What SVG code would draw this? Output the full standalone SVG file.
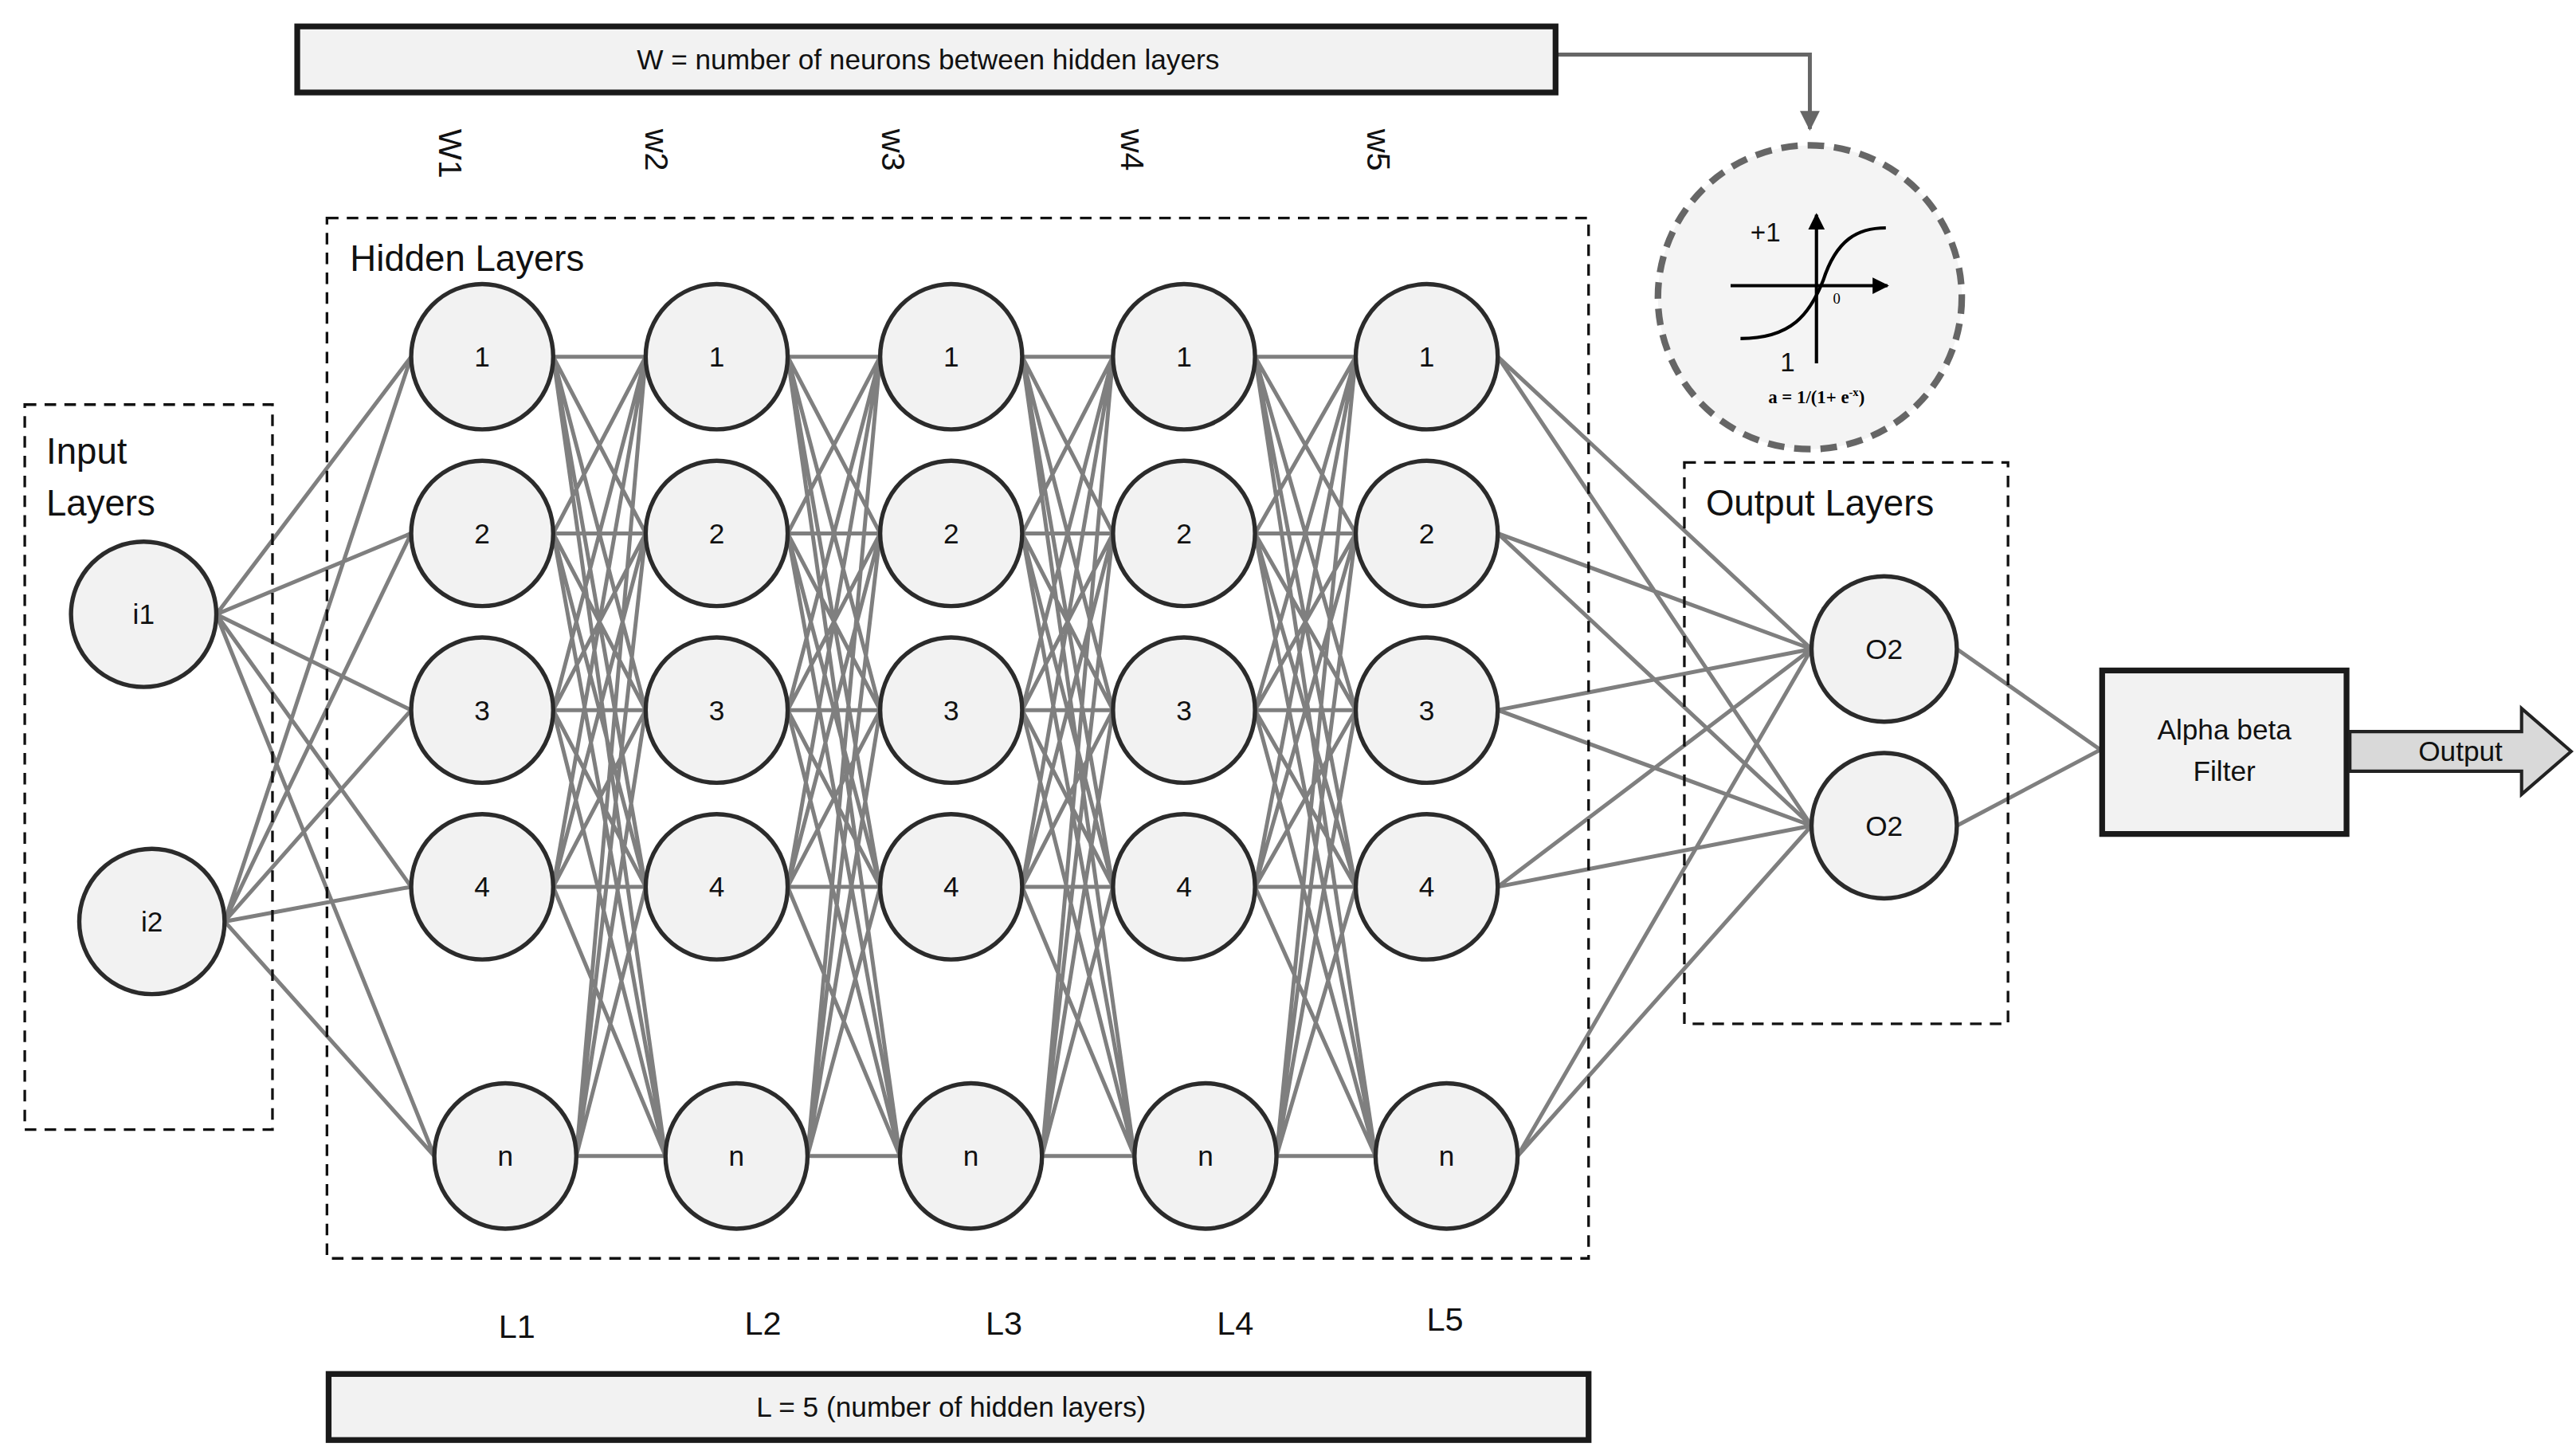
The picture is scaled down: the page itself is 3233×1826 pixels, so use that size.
<svg xmlns="http://www.w3.org/2000/svg" width="3233" height="1826" viewBox="0 0 3233 1826">
<style>
.n{fill:#f2f2f2;stroke:#2b2b2b;stroke-width:2.6}
.t{font-family:"Liberation Sans",Arial,sans-serif;fill:#111}
.c{fill:none;stroke:#7f7f7f;stroke-width:2.4}
.d{fill:none;stroke:#111;stroke-width:1.6;stroke-dasharray:7 5}
.b{fill:#f2f2f2;stroke:#1a1a1a;stroke-width:3.5}
</style>
<defs>
<marker id="ah" viewBox="0 0 10 10" refX="9" refY="5" markerWidth="5" markerHeight="5" orient="auto"><path d="M0 0L10 5L0 10z" fill="#666"/></marker>
<marker id="ak" viewBox="0 0 10 10" refX="9" refY="5" markerWidth="5" markerHeight="5" orient="auto"><path d="M0 0L10 5L0 10z" fill="#000"/></marker>
</defs>
<rect width="3233" height="1826" fill="#fff"/>
<g transform="scale(2.0725)">
<g id="connectors" class="c">
<path d="M131 372L249 216M131 372L249 323M131 372L249 430M131 372L249 537M131 372L263 700M136 558L249 216M136 558L249 323M136 558L249 430M136 558L249 537M136 558L263 700"/>
<path d="M335 216L391 216M335 216L391 323M335 216L391 430M335 216L391 537M335 216L403 700M335 323L391 216M335 323L391 323M335 323L391 430M335 323L391 537M335 323L403 700M335 430L391 216M335 430L391 323M335 430L391 430M335 430L391 537M335 430L403 700M335 537L391 216M335 537L391 323M335 537L391 430M335 537L391 537M335 537L403 700M349 700L391 216M349 700L391 323M349 700L391 430M349 700L391 537M349 700L403 700"/>
<path d="M477 216L533 216M477 216L533 323M477 216L533 430M477 216L533 537M477 216L545 700M477 323L533 216M477 323L533 323M477 323L533 430M477 323L533 537M477 323L545 700M477 430L533 216M477 430L533 323M477 430L533 430M477 430L533 537M477 430L545 700M477 537L533 216M477 537L533 323M477 537L533 430M477 537L533 537M477 537L545 700M489 700L533 216M489 700L533 323M489 700L533 430M489 700L533 537M489 700L545 700"/>
<path d="M619 216L674 216M619 216L674 323M619 216L674 430M619 216L674 537M619 216L687 700M619 323L674 216M619 323L674 323M619 323L674 430M619 323L674 537M619 323L687 700M619 430L674 216M619 430L674 323M619 430L674 430M619 430L674 537M619 430L687 700M619 537L674 216M619 537L674 323M619 537L674 430M619 537L674 537M619 537L687 700M631 700L674 216M631 700L674 323M631 700L674 430M631 700L674 537M631 700L687 700"/>
<path d="M760 216L821 216M760 216L821 323M760 216L821 430M760 216L821 537M760 216L833 700M760 323L821 216M760 323L821 323M760 323L821 430M760 323L821 537M760 323L833 700M760 430L821 216M760 430L821 323M760 430L821 430M760 430L821 537M760 430L833 700M760 537L821 216M760 537L821 323M760 537L821 430M760 537L821 537M760 537L833 700M773 700L821 216M773 700L821 323M773 700L821 430M773 700L821 537M773 700L833 700"/>
<path d="M907 216L1097 393M907 216L1097 500M907 323L1097 393M907 323L1097 500M907 430L1097 393M907 430L1097 500M907 537L1097 393M907 537L1097 500M919 700L1097 393M919 700L1097 500"/>
<path d="M1185 393L1272 454M1185 500L1272 454"/>
<path d="M942 33H1096V78" stroke="#666" marker-end="url(#ah)"/>
</g>
<g id="wbox"><rect class="b" x="180" y="16" width="762" height="40"/><text class="t" x="562" y="42" font-size="17" text-anchor="middle">W = number of neurons between hidden layers</text></g>
<g id="lbox"><rect class="b" x="199" y="832" width="763" height="40"/><text class="t" x="576" y="858" font-size="17" text-anchor="middle">L = 5 (number of hidden layers)</text></g>
<g id="wlabels" class="t" font-size="20">
<text transform="translate(266,78) rotate(90)">W1</text>
<text transform="translate(391,78) rotate(90)">w2</text>
<text transform="translate(534,78) rotate(90)">w3</text>
<text transform="translate(679,78) rotate(90)">w4</text>
<text transform="translate(828,78) rotate(90)">w5</text>
</g>
<g id="llabels" class="t" font-size="20" text-anchor="middle">
<text x="313" y="810">L1</text><text x="462" y="808">L2</text><text x="608" y="808">L3</text><text x="748" y="808">L4</text><text x="875" y="806">L5</text>
</g>
<g id="hidden-box"><rect class="d" x="198" y="132" width="764" height="630"/><text class="t" x="212" y="164" font-size="22">Hidden Layers</text></g>
<g id="input-box"><rect class="d" x="15" y="245" width="150" height="439"/><text class="t" x="28" y="281" font-size="22">Input</text><text class="t" x="28" y="312" font-size="22">Layers</text></g>
<g id="output-box"><rect class="d" x="1020" y="280" width="196" height="340"/><text class="t" x="1033" y="312" font-size="22">Output Layers</text></g>
<g id="i1"><ellipse class="n" cx="87" cy="372" rx="44" ry="44"/><text class="t" x="87" y="378" font-size="17" text-anchor="middle">i1</text></g>
<g id="i2"><ellipse class="n" cx="92" cy="558" rx="44" ry="44"/><text class="t" x="92" y="564" font-size="17" text-anchor="middle">i2</text></g>
<g class="t" font-size="17" text-anchor="middle">
<g id="h1-1"><ellipse class="n" cx="292" cy="216" rx="43" ry="44"/><text x="292" y="222">1</text></g>
<g id="h1-2"><ellipse class="n" cx="292" cy="323" rx="43" ry="44"/><text x="292" y="329">2</text></g>
<g id="h1-3"><ellipse class="n" cx="292" cy="430" rx="43" ry="44"/><text x="292" y="436">3</text></g>
<g id="h1-4"><ellipse class="n" cx="292" cy="537" rx="43" ry="44"/><text x="292" y="543">4</text></g>
<g id="h1-n"><ellipse class="n" cx="306" cy="700" rx="43" ry="44"/><text x="306" y="706">n</text></g>
<g id="h2-1"><ellipse class="n" cx="434" cy="216" rx="43" ry="44"/><text x="434" y="222">1</text></g>
<g id="h2-2"><ellipse class="n" cx="434" cy="323" rx="43" ry="44"/><text x="434" y="329">2</text></g>
<g id="h2-3"><ellipse class="n" cx="434" cy="430" rx="43" ry="44"/><text x="434" y="436">3</text></g>
<g id="h2-4"><ellipse class="n" cx="434" cy="537" rx="43" ry="44"/><text x="434" y="543">4</text></g>
<g id="h2-n"><ellipse class="n" cx="446" cy="700" rx="43" ry="44"/><text x="446" y="706">n</text></g>
<g id="h3-1"><ellipse class="n" cx="576" cy="216" rx="43" ry="44"/><text x="576" y="222">1</text></g>
<g id="h3-2"><ellipse class="n" cx="576" cy="323" rx="43" ry="44"/><text x="576" y="329">2</text></g>
<g id="h3-3"><ellipse class="n" cx="576" cy="430" rx="43" ry="44"/><text x="576" y="436">3</text></g>
<g id="h3-4"><ellipse class="n" cx="576" cy="537" rx="43" ry="44"/><text x="576" y="543">4</text></g>
<g id="h3-n"><ellipse class="n" cx="588" cy="700" rx="43" ry="44"/><text x="588" y="706">n</text></g>
<g id="h4-1"><ellipse class="n" cx="717" cy="216" rx="43" ry="44"/><text x="717" y="222">1</text></g>
<g id="h4-2"><ellipse class="n" cx="717" cy="323" rx="43" ry="44"/><text x="717" y="329">2</text></g>
<g id="h4-3"><ellipse class="n" cx="717" cy="430" rx="43" ry="44"/><text x="717" y="436">3</text></g>
<g id="h4-4"><ellipse class="n" cx="717" cy="537" rx="43" ry="44"/><text x="717" y="543">4</text></g>
<g id="h4-n"><ellipse class="n" cx="730" cy="700" rx="43" ry="44"/><text x="730" y="706">n</text></g>
<g id="h5-1"><ellipse class="n" cx="864" cy="216" rx="43" ry="44"/><text x="864" y="222">1</text></g>
<g id="h5-2"><ellipse class="n" cx="864" cy="323" rx="43" ry="44"/><text x="864" y="329">2</text></g>
<g id="h5-3"><ellipse class="n" cx="864" cy="430" rx="43" ry="44"/><text x="864" y="436">3</text></g>
<g id="h5-4"><ellipse class="n" cx="864" cy="537" rx="43" ry="44"/><text x="864" y="543">4</text></g>
<g id="h5-n"><ellipse class="n" cx="876" cy="700" rx="43" ry="44"/><text x="876" y="706">n</text></g>
<g id="o1"><ellipse class="n" cx="1141" cy="393" rx="44" ry="44"/><text x="1141" y="399">O2</text></g>
<g id="o2"><ellipse class="n" cx="1141" cy="500" rx="44" ry="44"/><text x="1141" y="506">O2</text></g>
</g>
<g id="filter"><rect class="b" x="1273" y="406" width="148" height="99"/><text class="t" x="1347" y="448" font-size="17" text-anchor="middle">Alpha beta</text><text class="t" x="1347" y="473" font-size="17" text-anchor="middle">Filter</text></g>
<g id="output"><path d="M1423 443H1527V429L1557 455L1527 481V467H1423Z" fill="#d9d9d9" stroke="#222" stroke-width="2"/><text class="t" x="1490" y="461" font-size="17" text-anchor="middle">Output</text></g>
<g id="sigmoid">
<circle cx="1096" cy="180" r="92" fill="#f4f4f4" stroke="#666" stroke-width="4" stroke-dasharray="10 6"/>
<line x1="1100" y1="220" x2="1100" y2="130" stroke="#000" stroke-width="2" marker-end="url(#ak)"/>
<line x1="1048" y1="173" x2="1143" y2="173" stroke="#000" stroke-width="2" marker-end="url(#ak)"/>
<path d="M1054 205C1085 205 1096 190 1104 170C1112 145 1125 138 1142 138" fill="none" stroke="#000" stroke-width="2"/>
<text class="t" x="1060" y="146" font-size="16">+1</text>
<text class="t" x="1078" y="225" font-size="16">1</text>
<text x="1110" y="184" font-size="9" font-family="Liberation Serif,serif">0</text>
<text x="1100" y="244" font-size="11" font-weight="bold" font-family="Liberation Serif,serif" text-anchor="middle">a = 1/(1+ e<tspan font-size="7" dy="-4">-x</tspan><tspan dy="4">)</tspan></text>
</g>
</g>
</svg>
